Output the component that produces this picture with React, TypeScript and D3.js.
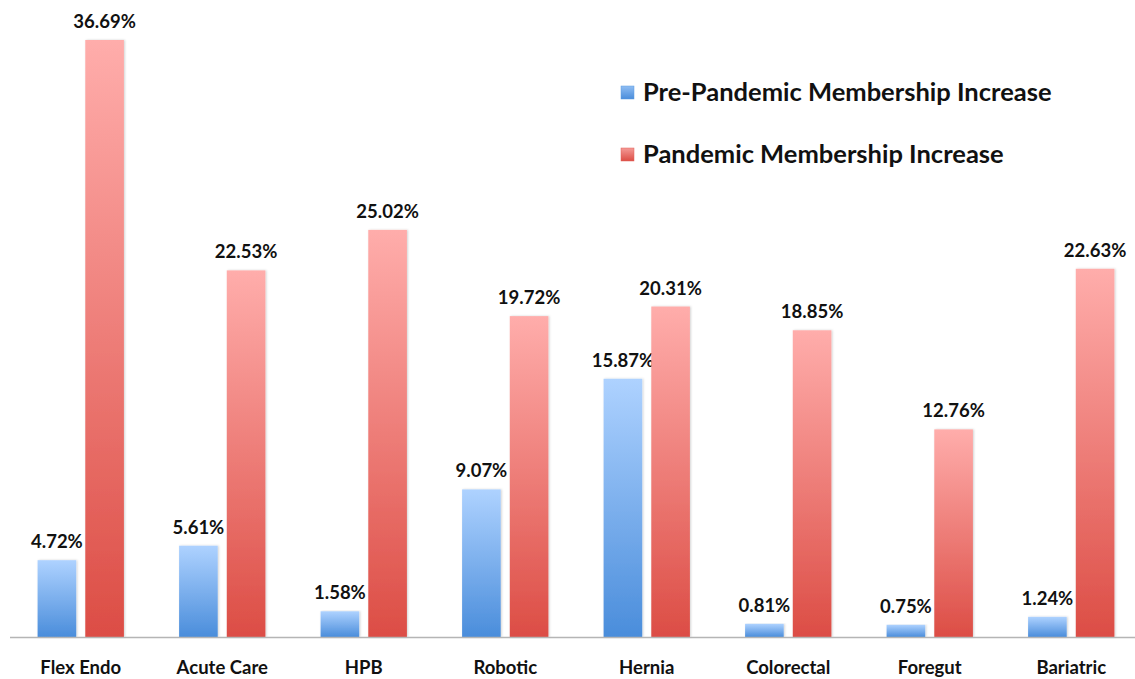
import React, { useEffect } from 'react';
import * as d3 from 'd3';

const categories = ['Flex Endo', 'Acute Care', 'HPB', 'Robotic', 'Hernia', 'Colorectal', 'Foregut', 'Bariatric'];
const prePandemic = [4.72, 5.61, 1.58, 9.07, 15.87, 0.81, 0.75, 1.24];
const pandemic = [36.69, 22.53, 25.02, 19.72, 20.31, 18.85, 12.76, 22.63];
const seriesNames = ['Pre-Pandemic Membership Increase', 'Pandemic Membership Increase'];

const W = 1135;
const H = 679;
const FONT = 'Lato, "Open Sans", sans-serif';

export default function App() {
    useEffect(() => {
        document.body.style.margin = '0';
    }, []);

    const x0 = d3.scaleBand<string>()
        .domain(categories)
        .range([10, 1142])
        .paddingInner(0.39)
        .paddingOuter(0.195);

    const x1 = d3.scaleBand<number>()
        .domain([0, 1])
        .range([0, x0.bandwidth()])
        .paddingInner(0.19);

    const y = d3.scaleLinear().domain([0, 36.69]).range([637, 40]);

    const series = [prePandemic, pandemic];
    const fills = ['url(#gradBlue)', 'url(#gradRed)'];
    const swatch = ['#5b9be0', '#e2605a'];

    return (
        <svg width={W} height={H} style={{ display: 'block', background: '#fff' }}>
            <defs>
                <linearGradient id="gradBlue" x1="0" y1="0" x2="0" y2="1">
                    <stop offset="0%" stopColor="#aed2ff" />
                    <stop offset="100%" stopColor="#4a8ddb" />
                </linearGradient>
                <linearGradient id="gradRed" x1="0" y1="0" x2="0" y2="1">
                    <stop offset="0%" stopColor="#ffadab" />
                    <stop offset="100%" stopColor="#dc4d45" />
                </linearGradient>
                <linearGradient id="legBlue" x1="0" y1="0" x2="0" y2="1">
                    <stop offset="0%" stopColor="#8fbdf3" />
                    <stop offset="100%" stopColor="#4a8ddb" />
                </linearGradient>
                <linearGradient id="legRed" x1="0" y1="0" x2="0" y2="1">
                    <stop offset="0%" stopColor="#f49a96" />
                    <stop offset="100%" stopColor="#dc4d45" />
                </linearGradient>
                <filter id="shadow" x="-20%" y="-5%" width="140%" height="110%">
                    <feDropShadow dx="1" dy="0" stdDeviation="1" floodColor="#000" floodOpacity="0.18" />
                </filter>
            </defs>

            {/* bars */}
            {categories.map((cat, i) => (
                <g key={cat} transform={`translate(${x0(cat)},0)`}>
                    {series.map((vals, s) => {
                        const bx = x1(s) ?? 0;
                        const top = y(vals[i]);
                        return (
                            <g key={s}>
                                <rect
                                    x={bx}
                                    y={top}
                                    width={x1.bandwidth()}
                                    height={y(0) - top}
                                    fill={fills[s]}
                                    filter="url(#shadow)"
                                />
                                <text
                                    x={bx + x1.bandwidth() / 2}
                                    y={top - 12}
                                    textAnchor="middle"
                                    fontFamily={FONT}
                                    fontWeight={700}
                                    fontSize={18.5}
                                    fill="#111"
                                >
                                    {vals[i].toFixed(2)}%
                                </text>
                            </g>
                        );
                    })}
                    <text
                        x={x0.bandwidth() / 2}
                        y={674}
                        textAnchor="middle"
                        fontFamily={FONT}
                        fontWeight={700}
                        fontSize={18.5}
                        fill="#111"
                    >
                        {cat}
                    </text>
                </g>
            ))}

            {/* baseline */}
            <line x1={10} x2={W} y1={y(0) + 0.5} y2={y(0) + 0.5} stroke="#b5b5b5" strokeWidth={1.5} />

            {/* legend */}
            {seriesNames.map((name, i) => (
                <g key={name} transform={`translate(621,${86 + i * 62})`}>
                    <rect width={13} height={13} fill={i === 0 ? 'url(#legBlue)' : 'url(#legRed)'} stroke={swatch[i]} strokeWidth={0.5} />
                    <text x={22} y={15} fontFamily={FONT} fontWeight={700} fontSize={25.5} fill="#111">
                        {name}
                    </text>
                </g>
            ))}
        </svg>
    );
}
